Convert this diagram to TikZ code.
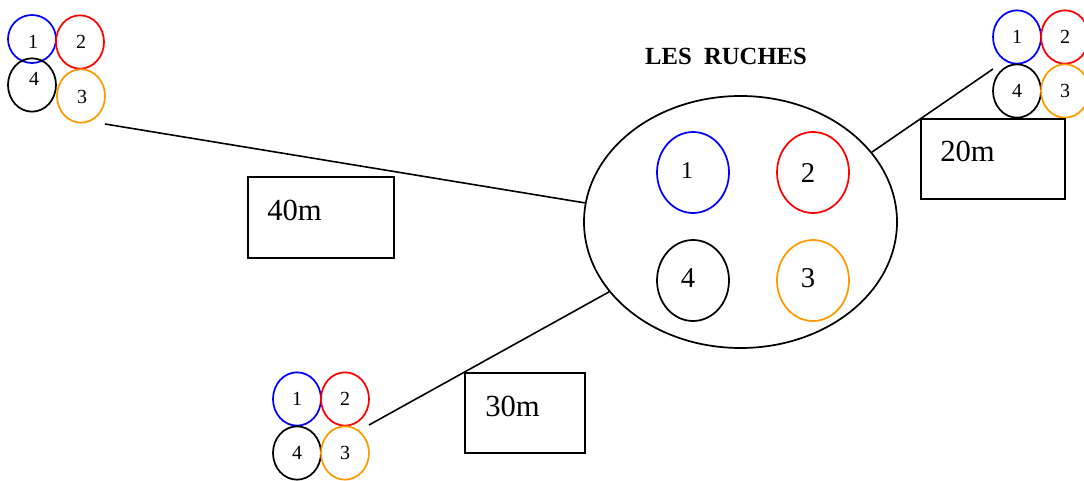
\documentclass[tikz,border=0pt]{standalone}
\usepackage{fontspec}
\setmainfont{Liberation Serif}
\usetikzlibrary{shapes.geometric}
\definecolor{hiveblue}{RGB}{0,0,255}
\definecolor{hivered}{RGB}{255,0,0}
\definecolor{hiveorange}{RGB}{255,153,0}
\tikzset{
  hive/.style={ellipse, draw, text=black, line width=1.3pt, inner sep=0pt, minimum width=36pt, minimum height=40pt, font=\fontsize{15}{15}\selectfont},
  bighive/.style={ellipse, draw, line width=1.3pt, inner sep=0pt, minimum width=54pt, minimum height=60.75pt},
  bigdigit/.style={inner sep=0pt, font=\fontsize{21.5}{21.5}\selectfont},
  smalldigit/.style={inner sep=0pt, font=\fontsize{18}{18}\selectfont},
  tinydigit/.style={inner sep=0pt, font=\fontsize{15}{15}\selectfont},
  apiary/.style={ellipse, draw, line width=1.3pt, inner sep=0pt, minimum width=234.75pt, minimum height=189pt},
  distbox/.style={rectangle, draw, line width=1.2pt, inner sep=0pt},
  disttext/.style={inner sep=0pt, anchor=west, font=\fontsize{23}{23}\selectfont},
  link/.style={line width=1.2pt},
}
\begin{document}
\begin{tikzpicture}[x=0.75pt,y=-0.75pt]
\useasboundingbox (0,0) rectangle (1084,481);

% title
\node[font=\bfseries\fontsize{18.5}{18.5}\selectfont, inner sep=0pt] (title) at (726,56) {LES\ \ RUCHES};

% central apiary
\node[apiary] (big) at (740.5,222) {};
\node[bighive, draw=hiveblue] (e1) at (693,172.5) {};
\node[bighive, draw=hivered] (e2) at (813,172.5) {};
\node[bighive, draw=black] (e4) at (693,280.5) {};
\node[bighive, draw=hiveorange] (e3) at (813,280.5) {};
\node[smalldigit] (t1) at (687,171) {1};
\node[bigdigit] (t2) at (808,173) {2};
\node[bigdigit] (t4) at (688,278) {4};
\node[bigdigit] (t3) at (808,278) {3};

% top-left cluster
\node[hive, draw=hiveblue, minimum height=36pt] (a1) at (32,39) {};
\node[hive, draw=hivered] (a2) at (80,42) {};
\node[hive, draw=black] (a4) at (32,85) {};
\node[hive, draw=hiveorange] (a3) at (81,96) {};
\node[tinydigit] (ta1) at (33,42) {1};
\node[tinydigit] (ta2) at (81,42) {2};
\node[tinydigit] (ta4) at (34,79) {4};
\node[tinydigit] (ta3) at (82,97) {3};
\coordinate (aEnd) at (105,124);

% top-right cluster
\node[hive, draw=hiveblue] (b1) at (1017,37) {1};
\node[hive, draw=hivered] (b2) at (1065,37) {2};
\node[hive, draw=black] (b4) at (1017,91) {4};
\node[hive, draw=hiveorange] (b3) at (1065,91) {3};
\coordinate (bEnd) at (993,69);

% bottom cluster
\node[hive, draw=hiveblue] (c1) at (297,399) {1};
\node[hive, draw=hivered] (c2) at (345,399) {2};
\node[hive, draw=black] (c4) at (297,453) {4};
\node[hive, draw=hiveorange] (c3) at (345,453) {3};
\coordinate (cEnd) at (369,425);

% connectors
\draw[link] (aEnd) -- (big.173.4);
\draw[link] (bEnd) -- (big.28.5);
\draw[link] (cEnd) -- (big.208.5);

% distance boxes
\node[distbox, minimum width=109.5pt, minimum height=60.75pt] (d40) at (321,217.5) {};
\node[disttext] (l40) at (267,210) {40m};
\node[distbox, minimum width=108pt, minimum height=60pt] (d20) at (993,159) {};
\node[disttext] (l20) at (940,151) {20m};
\node[distbox, minimum width=90pt, minimum height=60pt] (d30) at (525,413) {};
\node[disttext] (l30) at (485,406) {30m};
\end{tikzpicture}
\end{document}
